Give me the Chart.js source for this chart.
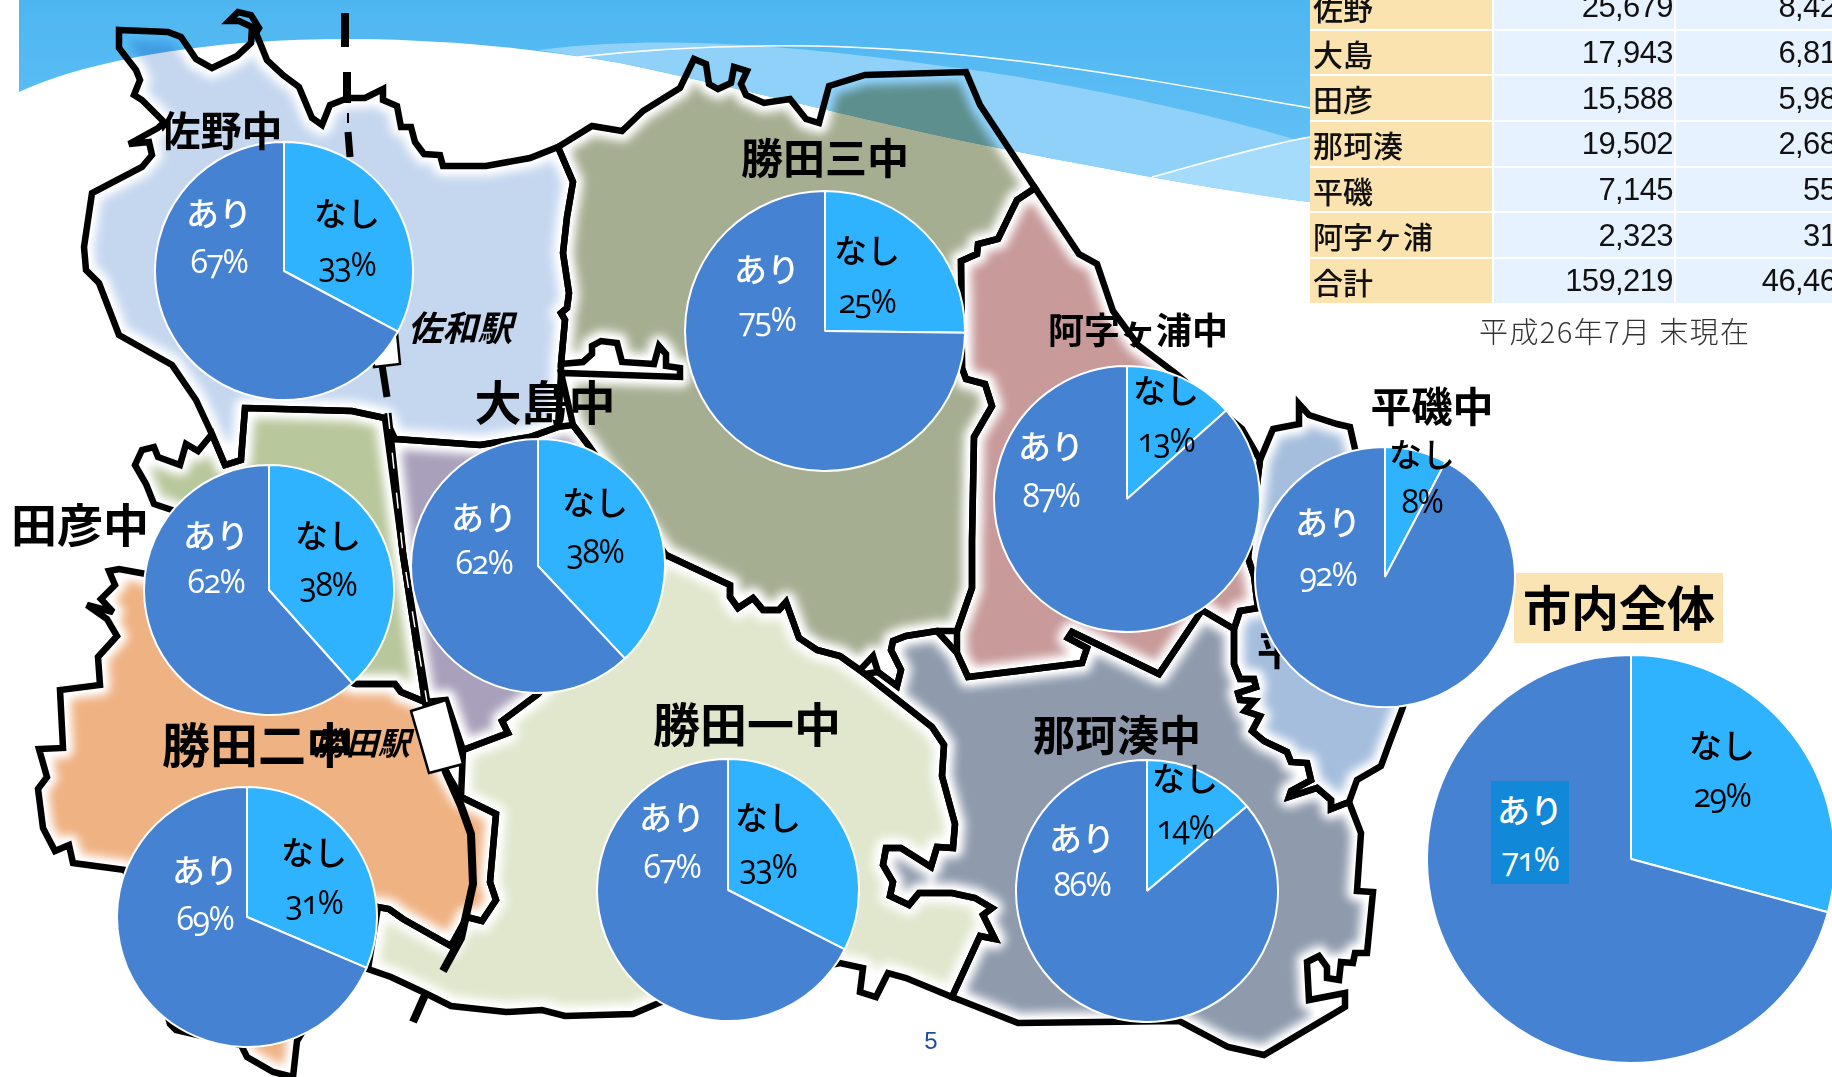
<!DOCTYPE html>
<html lang="ja">
<head>
<meta charset="UTF-8" />
<title>市内全体</title>
<script src="https://cdn.jsdelivr.net/npm/chart.js"></script>
<style>
    html, body { margin: 0; background: #fff; }
    #page { position: relative; width: 1832px; height: 1077px; overflow: hidden; font-family: "Noto Sans CJK JP", sans-serif; }
    #map { position: absolute; left: 0; top: 0; }
    canvas { position: absolute; }
    .txt { position: absolute; transform: translate(-50%, calc(-50% - 3px)); white-space: nowrap; line-height: 1; }
    .title { font-weight: 700; color: #000; }
    .station { font-weight: 700; font-style: italic; color: #000; }
    .kana { font-size: 33px; font-weight: 500; transform: translate(-50%, calc(-50% - 1px)); }
    .pct { font-family: "Open Sans", sans-serif; font-size: 32px; font-feature-settings: "onum"; letter-spacing: -1.5px; transform: translate(-50%, calc(-50% - 2px)); }
    .white { color: #fff; }
    .black { color: #000; }
    #overallBox { position: absolute; left: 1514px; top: 573px; width: 209px; height: 70px; background: #fbe4b3; }
    #ariBox { position: absolute; left: 1491px; top: 781px; width: 78px; height: 103px; background: #1188d8; }
    #areaTable { position: absolute; left: 1310px; top: -15px; border-collapse: collapse; table-layout: fixed; width: 545px; }
    #areaTable td { height: 43.7px; padding: 0; border: solid #fff; border-width: 0 2.6px 2.7px 0; background: #e6f2ff; text-align: right;
        font-family: "Liberation Sans Narrow", "Liberation Sans", sans-serif; font-size: 31px; letter-spacing: -0.6px; line-height: 1; color: #111; padding-right: 1px; }
    #areaTable td.name { background: #fbe3b0; text-align: left; font-family: "Noto Sans CJK JP", sans-serif; font-size: 30px; font-weight: 500; letter-spacing: 0; padding-left: 3px; }
    #note { position: absolute; left: 1479px; top: 315px; font-size: 29px; letter-spacing: 1.4px; line-height: 1.1; color: #333; font-weight: 300; white-space: nowrap; }
    #pageNo { position: absolute; left: 931px; top: 1041px; transform: translate(-50%, -50%); color: #1f4e9a; font-family: "Liberation Sans Narrow", sans-serif; font-size: 24px; line-height: 1; }
</style>
</head>
<body>
<div id="page">
    <svg id="map" width="1832" height="1077" viewBox="0 0 1832 1077"></svg>
    <div id="overallBox"></div>
    <div id="pies"></div>
    <div id="ariBox"></div>
    <div id="labels"></div>
    <table id="areaTable">
        <colgroup><col style="width:183px"><col style="width:182px"><col style="width:180px"></colgroup>
        <tbody id="tableBody"></tbody>
    </table>
    <div id="note">平成26年7月 末現在</div>
    <div id="pageNo">5</div>
</div>

<script>
    // 円グラフの値 (なし / あり の割合)
    const schools = ['佐野中', '田彦中', '大島中', '勝田二中', '勝田三中', '阿字ヶ浦中', '平磯中', '勝田一中', '那珂湊中', '市内全体'];
    const nashiValues = [32.8, 38.4, 38.0, 31.4, 25.2, 13.4, 7.7, 32.5, 13.8, 29.2];
    const ariValues = [67.2, 61.6, 62.0, 68.6, 74.8, 86.6, 92.3, 67.5, 86.2, 70.8];
    const nashiLabels = ['33%', '38%', '38%', '31%', '25%', '13%', '8%', '33%', '14%', '29%'];
    const ariLabels = ['67%', '62%', '62%', '69%', '75%', '87%', '92%', '67%', '86%', '71%'];
    const sliceNames = ['なし', 'あり'];

    // 右上の表
    const tableAreas = ['佐野', '大島', '田彦', '那珂湊', '平磯', '阿字ヶ浦', '合計'];
    const tablePopulation = ['25,679', '17,943', '15,588', '19,502', '7,145', '2,323', '159,219'];
    const tableNashi = ['8,421', '6,815', '5,982', '2,687', '553', '314', '46,468'];

    // 円の配置 [中心x, 中心y, 半径]
    const pieLayout = [
        [284, 271, 129], [269, 590, 125], [538, 566, 127], [247, 917, 130], [825, 331, 140],
        [1127, 499, 133], [1385, 577, 130], [728, 890, 131], [1147, 891, 131], [1631, 859, 204]
    ];
    // ラベル位置 [ありx, ありy, あり%y, なしx, なしy, なし%y]
    const labelLayout = [
        [219, 213, 263, 347, 213, 266], [216, 535, 583, 328, 535, 586], [484, 517, 564, 595, 502, 553],
        [205, 870, 920, 314, 852, 904], [767, 269, 321, 867, 250, 303], [1051, 446, 497, 1166, 390, 442],
        [1328, 522, 576, 1422, 454, 503], [672, 817, 868, 768, 817, 868], [1082, 838, 886, 1185, 778, 829],
        [1530, 810, 861, 1722, 745, 797]
    ];
    // 学校名の配置 [x, y, 文字サイズ]
    const titleLayout = [
        [221, 131, 41], [80, 525, 46], [545, 402, 47], [258, 745, 48], [825, 159, 42],
        [1138, 331, 36], [1432, 407, 41], [747, 724, 47], [1117, 736, 42], [1619, 608, 48]
    ];

    const page = document.getElementById('page');
    const pies = document.getElementById('pies');
    const labels = document.getElementById('labels');

    schools.forEach((name, i) => {
        const [cx, cy, r] = pieLayout[i];
        const canvas = document.createElement('canvas');
        canvas.width = canvas.height = 2 * r + 2;
        canvas.style.left = (cx - r - 1) + 'px';
        canvas.style.top = (cy - r - 1) + 'px';
        pies.appendChild(canvas);
        new Chart(canvas, {
            type: 'pie',
            data: {
                labels: sliceNames,
                datasets: [{
                    data: [nashiValues[i], ariValues[i]],
                    backgroundColor: ['#30b3ff', '#4682d2'],
                    borderColor: '#fff',
                    borderWidth: 2
                }]
            },
            options: {
                responsive: false,
                animation: false,
                plugins: { legend: { display: false }, tooltip: { enabled: false } }
            }
        });

        const [ax, ay, apy, nx, ny, npy] = labelLayout[i];
        addText(labels, 'あり', ax, ay, 'kana white');
        addText(labels, ariLabels[i], ax, apy, 'pct white');
        addText(labels, 'なし', nx, ny, 'kana black');
        addText(labels, nashiLabels[i], nx, npy, 'pct black');

        const [tx, ty, size] = titleLayout[i];
        addText(labels, name, tx, ty, 'title').style.fontSize = size + 'px';
    });

    function addText(parent, text, x, y, cls) {
        const el = document.createElement('div');
        el.className = 'txt ' + cls;
        el.textContent = text;
        el.style.left = x + 'px';
        el.style.top = y + 'px';
        parent.appendChild(el);
        return el;
    }

    // 表
    document.getElementById('tableBody').innerHTML = tableAreas.map((a, i) =>
        `<tr><td class="name">${a}</td><td>${tablePopulation[i]}</td><td>${tableNashi[i]}</td></tr>`).join('');

    // ここから下は背景の地図
    const regions = [
        ['#c5d7ef', '119,30 168,32 181,37 196,59 212,68 237,56 251,43 252,27 239,21 229,21 238,12 251,15 259,28 256,33 267,60 283,75 299,87 312,118 322,125 330,105 348,98 365,98 383,89 383,100 397,106 401,127 411,127 415,142 424,154 440,155 443,166 486,166 530,158 558,147 573,182 567,217 563,253 569,293 567,308 561,313 565,320 561,364 561,373 558,427 530,437 480,445 395,439 385,418 352,411 245,408 241,460 225,465 210,430 196,400 172,365 119,335 99,283 86,270 84,247 92,193 142,167 152,155 149,142 129,144 158,128 164,122 142,100 134,95 140,80 136,70 119,48'],
        ['#b8c79c', '245,408 352,411 385,418 403,554 425,702 401,692 395,684 356,684 250,650 146,574 200,540 172,510 154,504 146,484 135,465 142,450 154,447 158,457 180,465 186,444 198,451 212,434 225,465 241,460'],
        ['#efb283', '146,574 119,569 109,571 115,585 101,599 113,612 87,605 107,619 117,636 98,657 100,685 60,690 63,748 39,749 47,777 38,789 43,828 55,851 69,845 73,863 125,870 170,1024 176,1030 241,1045 247,1057 273,1072 293,1077 297,1041 378,907 389,909 403,919 451,946 467,917 482,921 496,900 490,882 496,814 461,797 445,770 425,702 401,692 395,684 356,684 250,650'],
        ['#a9a0bb', '395,439 480,445 530,437 558,427 573,425 589,446 650,550 538,694 502,721 508,733 463,750 446,700 425,702 403,554 390,440'],
        ['#a6ae92', '558,147 592,126 622,131 643,111 680,88 694,59 706,64 709,84 718,89 731,83 734,67 747,71 741,84 746,95 764,103 790,99 806,119 819,123 829,86 865,75 966,72 980,105 1035,188 1017,200 998,239 978,244 977,254 961,261 962,368 966,379 985,384 992,406 974,437 972,540 972,588 957,631 937,631 906,636 893,641 891,650 901,670 897,686 878,672 873,656 860,670 840,656 817,650 799,638 786,602 779,610 763,610 753,598 738,608 730,597 730,585 666,555 589,446 573,425 561,373 680,377 680,368 666,366 666,354 659,346 654,364 622,362 617,343 601,341 592,346 592,354 583,362 561,364 565,320 561,313 567,308 569,293 563,253 567,217 573,182'],
        ['#c89a9a', '1035,188 1079,254 1097,264 1113,311 1138,345 1175,373 1242,429 1260,460 1248,558 1254,576 1258,608 1240,611 1234,629 1202,610 1159,674 1072,632 1068,638 1087,648 1082,663 968,677 957,653 957,631 972,588 972,540 974,437 992,406 985,384 966,379 962,368 961,261 977,254 978,244 998,239 1017,200'],
        ['#a5bedd', '1273,429 1299,424 1299,404 1309,415 1337,424 1350,427 1355,449 1420,600 1403,707 1389,744 1381,766 1357,780 1349,802 1331,809 1331,800 1317,788 1289,797 1291,791 1311,780 1307,763 1291,762 1287,752 1264,741 1252,731 1260,716 1245,711 1254,701 1240,700 1238,693 1256,687 1254,679 1240,679 1234,664 1234,629 1240,611 1258,608 1254,576 1248,558 1260,460'],
        ['#8f9bad', '865,674 878,672 897,686 901,670 891,650 893,641 906,636 937,631 957,653 968,677 1082,663 1087,648 1068,638 1072,632 1159,674 1202,610 1234,629 1234,664 1240,679 1254,679 1256,687 1238,693 1240,700 1254,701 1245,711 1260,716 1252,731 1264,741 1287,752 1291,762 1307,763 1311,780 1291,791 1289,797 1317,788 1331,800 1331,809 1349,802 1361,833 1357,891 1373,892 1367,953 1355,953 1353,963 1341,962 1339,980 1327,978 1327,967 1319,956 1307,962 1309,1000 1345,993 1345,1007 1264,1055 1228,1047 1179,1021 1018,1023 952,997 980,936 995,939 983,915 992,908 975,898 952,893 919,893 909,905 890,896 893,882 883,865 886,848 901,848 931,867 937,847 953,848 955,824 942,776 944,745 932,727'],
        ['#e0e7cd', '666,555 730,585 730,597 738,608 753,598 763,610 779,610 786,602 799,638 817,650 840,656 865,674 932,727 944,745 942,776 955,824 953,848 937,847 931,867 901,848 886,848 883,865 893,882 890,896 909,905 919,893 952,893 975,898 992,908 983,915 995,939 980,936 952,997 906,978 888,973 876,997 860,992 863,968 840,963 661,1002 633,1014 565,1016 542,1010 506,1012 451,1006 425,993 391,977 368,969 378,907 389,909 403,919 451,946 467,917 482,921 496,900 490,882 496,814 461,797 463,750 508,733 502,721 538,694']
    ];

    let svg = `<defs>
        <linearGradient id="bannerGrad" x1="0" y1="0" x2="0" y2="1"><stop offset="0" stop-color="#4db6f1"/><stop offset="1" stop-color="#68c3f6"/></linearGradient>
        <filter id="soft" x="-5%" y="-5%" width="110%" height="110%"><feGaussianBlur stdDeviation="3.5"/></filter>
    </defs>`;

    // 上の帯
    svg += `<path fill="url(#bannerGrad)" d="M19,0 L1310,0 L1310,202 C1220,190 1120,172 1019,152 C900,130 760,92 620,63 C530,48 450,40 356,39 C230,38 100,55 19,92 Z"/>
        <path fill="#8fd1f9" d="M538,50 C610,41 680,41 744,45 C830,50 900,60 973,70 C1060,82 1200,110 1310,144 L1310,202 C1220,190 1120,172 1019,152 C900,130 760,92 620,63 C590,58 565,54 538,50 Z"/>
        <path fill="#a5dbfb" d="M1152,177 C1200,164 1260,146 1310,137 L1310,202 C1260,196 1200,186 1152,177 Z"/>
        <path fill="none" stroke="#fff" stroke-width="1.5" d="M578,57 C640,50 720,45 812,46 C880,47 950,53 1019,61 C1120,74 1220,92 1310,108"/>
        <path fill="none" stroke="#fff" stroke-width="1.5" d="M1152,177 C1200,164 1260,146 1310,137"/>`;

    regions.forEach(([color, pts], i) => {
        svg += `<mask id="m${i}" maskUnits="userSpaceOnUse" x="0" y="0" width="1832" height="1077"><polygon points="${pts}" fill="#fff" stroke="#000" stroke-width="26" stroke-linejoin="round" filter="url(#soft)"/></mask>
            <polygon points="${pts}" fill="${color}" mask="url(#m${i})" style="mix-blend-mode:multiply"/>`;
    });
    svg += `<text x="1277" y="665" font-size="40" font-weight="700" text-anchor="middle">平</text>`;
    regions.forEach(([color, pts]) => {
        svg += `<polygon points="${pts}" fill="none" stroke="#000" stroke-width="6.5" stroke-linejoin="miter" stroke-miterlimit="3"/>`;
    });

    // 線路と駅
    const rail = (d, w) => `<path d="${d}" fill="none" stroke="#000" stroke-width="${w}"/>`;
    svg += rail('M345,13 L345,47', 8) + rail('M347,72 L347,103', 8) + rail('M348,113 L348,123', 2) + rail('M348,132 L350,157', 7);
    svg += rail('M382,365 L387,397', 7) + rail('M388,413 L403,554 L427,702', 7);
    svg += `<path d="M388,413 L403,554 L427,702" fill="none" stroke="#fff" stroke-width="1.5" stroke-dasharray="16 24"/>`;
    svg += rail('M445,770 L461,806 L471,834 L473,884 L461,938 L443,971', 8) + rail('M425,995 L413,1022', 8);
    svg += `<polygon points="370,330 397,333 400,364 374,367" fill="#fff" stroke="#000" stroke-width="2.5"/>`;
    svg += `<polygon points="411,711 446,700 463,764 429,773" fill="#fff" stroke="#000" stroke-width="2.5"/>`;
    document.getElementById('map').innerHTML = svg;

    addText(page, '佐和駅', 460, 328, 'station').style.fontSize = '35px';
    addText(page, '勝田駅', 362, 744, 'station').style.fontSize = '32px';
</script>
</body>
</html>
